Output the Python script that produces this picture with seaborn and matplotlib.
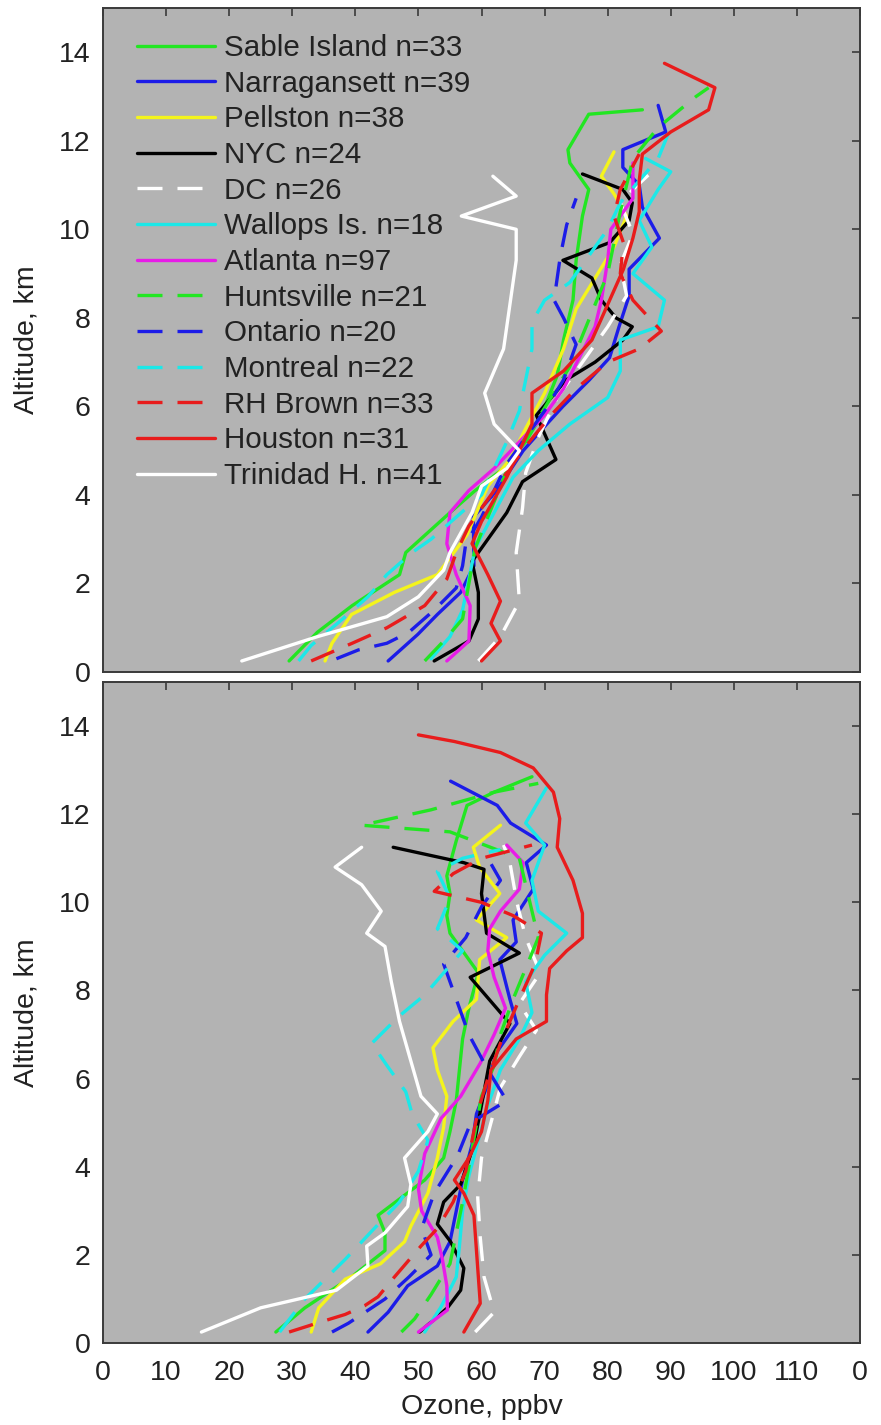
import matplotlib
matplotlib.use("Agg")
import matplotlib.pyplot as plt
import pandas as pd
import seaborn as sns

# ---------------- data (ozone ppbv, altitude km) ----------------
labels = ["Sable Island n=33", "Narragansett n=39", "Pellston n=38", "NYC n=24",
          "DC n=26", "Wallops Is. n=18", "Atlanta n=97", "Huntsville n=21",
          "Ontario n=20", "Montreal n=22", "RH Brown n=33", "Houston n=31",
          "Trinidad H. n=41"]
colors = ["#22e622", "#1c1ce8", "#f4f41c", "#000000", "#ffffff", "#1ce8e8",
          "#e81ce8", "#22e622", "#1c1ce8", "#1ce8e8", "#e81c1c", "#e81c1c", "#ffffff"]
dashed = [False, False, False, False, True, False, False, True, True, True, True, False, False]

# ---- upper panel ----
sable_top = [(29.5,0.25),(34,0.9),(39.5,1.5),(47,2.2),(48,2.7),(55,3.6),(59,4.1),(63.5,4.6),
             (67,5.2),(69.5,5.8),(72,6.7),(73,7.5),(74.5,8.4),(75,9.3),(76,10.3),(77,10.9),
             (74,11.5),(73.7,11.8),(77,12.6),(85.5,12.7)]
narra_top = [(45.2,0.25),(49.9,0.85),(53,1.3),(56.7,1.8),(58.8,2.4),(58.7,3.5),(62.4,4.1),
             (66.6,5.0),(69.7,5.5),(72.9,6.0),(77.1,6.6),(80.3,7.1),(81.8,7.8),(83.4,8.5),
             (83.4,9.1),(88.2,9.8),(85.5,10.5),(85,11.0),(82.4,11.4),(82.4,11.8),(89.2,12.2),(88,12.8)]
pell_top = [(35.2,0.25),(36.3,0.65),(39.4,1.3),(46.2,1.8),(53,2.2),(55.1,2.6),(57.7,3.1),
            (61,4.2),(64.5,4.8),(67,5.5),(70,6.3),(73,7.3),(75,8.2),(78,8.9),(81,9.6),
            (83,10.3),(81,10.8),(79,11.2),(81,11.75)]
nyc_top = [(52.5,0.25),(58,0.7),(59.5,1.2),(59.5,1.8),(58.5,2.5),(61,3.0),(64,3.6),(66.5,4.3),
           (71.8,4.8),(68.7,5.8),(73.4,6.6),(78,7.0),(82.4,7.5),(83.9,7.8),(81.3,8.0),(79,8.4),
           (77.5,8.9),(72.9,9.3),(80.3,9.7),(83.4,10.2),(83.9,10.6),(82.4,10.9),(76,11.25)]
dc_top = [(59.5,0.25),(63,0.8),(66,1.6),(65.5,2.7),(66.5,3.7),(67,4.5),(69,5.3),(72,6.2),
          (76,7.0),(80,7.8),(83,8.5),(82,9.2),(84,9.9),(82,10.6),(84,10.9),(87,11.3)]
wall_top = [(52,0.3),(55,0.8),(57,1.4),(58,2.1),(59,2.8),(62,3.6),(65,4.4),(69,5.0),(74,5.6),
            (80,6.2),(82,6.8),(82,7.5),(88,7.8),(89,8.4),(84,9.0),(87,9.6),(85,10.2),(88,10.9),
            (90,11.3),(86,11.6)]
atl_top = [(54.5,0.25),(58,0.7),(58.2,1.5),(56,2.2),(54.5,2.9),(55,3.6),(58,4.1),(62,4.6),
           (66,5.2),(70,5.8),(73,6.4),(75.5,7.1),(78,7.8),(79,8.4),(80,9.3),(80.5,10.0),
           (84,10.7),(84,11.5)]
hunt_top = [(51,0.25),(54,0.7),(57,1.2),(58,2.0),(59,2.8),(61,3.5),(63,4.2),(65,4.9),(68,5.5),
            (71,6.2),(74,6.9),(76,7.6),(78,8.3),(80,9.0),(81,9.7),(82,10.4),(83,11.0),(84,11.6),
            (88,12.3),(94,13.0),(96,13.2)]
ont_top = [(37,0.3),(40.5,0.5),(45,0.65),(48.5,0.9),(52.5,1.4),(56,1.9),(57,2.4),(57.5,2.9),
           (60,3.5),(62,4.1),(64,4.7),(67,5.3),(70,5.9),(73,6.6),(75,7.4),(73,8.0),(71.5,8.4),
           (72,8.9),(72.5,9.4),(73.5,10.1),(75,10.7)]
mont_top = [(31,0.25),(33,0.6),(38,1.2),(42,1.7),(45,2.2),(49,2.7),(52,3.0),(56,3.5),(60,4.0),
            (62,4.6),(64,5.2),(66,5.9),(67,6.6),(68,7.3),(68,7.9),(70,8.4),(74,8.8),(77,9.4),
            (80,10.0),(82,10.6),(85,11.1),(88,11.6),(90,12.3)]
rhb_top = [(33,0.25),(39.5,0.65),(45,1.0),(51,1.5),(54.5,2.1),(56,2.7),(58,3.3),(61,3.9),
           (64,4.5),(67,5.1),(71,5.8),(75,6.4),(80,7.0),(85,7.3),(88.5,7.7),(84,8.4),(82,9.0),
           (82.5,9.7),(81,10.3),(82,10.9),(85,11.7)]
hou_top = [(60,0.25),(63,0.7),(61.5,1.1),(63,1.6),(61,2.2),(58.5,2.9),(60,3.4),(62,3.9),(64,4.4),
           (66,5.0),(68,5.6),(68,6.3),(73,6.8),(77.5,7.5),(80,8.3),(82.5,9.1),(84,9.8),(85,10.4),
           (85,11.1),(85.5,11.7),(90,12.2),(96,12.7),(97,13.2),(89,13.75)]
trin_top = [(22,0.25),(34,0.8),(45,1.25),(50,1.7),(54,2.3),(55,2.7),(58.5,3.6),(60,4.2),(64,4.6),
            (66,5.0),(62,5.6),(60.5,6.3),(63.5,7.3),(64.5,8.3),(65.5,9.3),(65.5,10.0),(56.8,10.3),
            (65.5,10.75),(61.8,11.2)]

# ---- lower panel ----
sable_bot = [(27.4,0.25),(32,0.8),(39.4,1.5),(44.7,2.1),(44.7,2.5),(43.6,2.9),(47.3,3.3),(51,3.7),
             (54,4.2),(55,4.8),(56,5.5),(56.5,6.2),(57,6.9),(58,7.6),(59.5,8.4),(57,8.9),(55,9.3),
             (54.5,9.7),(55,10.2),(54.5,10.6),(56,11.4),(57.7,12.2),(62,12.5),(68,12.85)]
narra_bot = [(42,0.25),(45.2,0.7),(48.3,1.3),(53,1.75),(55,2.3),(56,3.0),(57,3.7),(58.5,4.5),
             (59.2,5.2),(60.8,5.8),(62.4,6.6),(65.6,7.25),(64.5,7.8),(62.9,8.7),(65.5,9.1),(65,9.6),
             (68.2,10.3),(67.1,10.9),(70.3,11.3),(64.6,11.8),(62.5,12.2),(55.1,12.75)]
pell_bot = [(33,0.25),(34.2,0.8),(38.4,1.45),(44,1.8),(47.8,2.3),(48.8,2.65),(51.5,3.4),(53,4.2),
            (54,4.9),(54.5,5.6),(53,6.2),(52.3,6.7),(55.5,7.3),(59.2,7.8),(59.7,8.7),(64,9.2),
            (59.2,9.6),(62.9,10.2),(59.7,10.8),(58.7,11.25),(63,11.75)]
nyc_bot = [(50.2,0.25),(54.6,0.8),(56.7,1.2),(57.2,1.7),(55.1,2.3),(53,2.7),(54,3.2),(56.7,3.6),
           (58.8,4.5),(60,5.4),(61.3,6.4),(64.5,7.25),(58.2,8.3),(66,8.85),(60.8,9.3),(60,10.2),
           (60.4,10.75),(57.2,10.9),(46,11.25)]
dc_bot = [(59,0.25),(62,0.7),(60.4,1.5),(59.8,2.4),(59.4,3.3),(60,4.2),(61.5,5.0),(63,5.8),
          (66,6.5),(68.7,7.1),(66,7.7),(69.3,8.4),(67,9.2),(65.6,10.0),(64.5,10.9),(63.5,11.3)]
wall_bot = [(51,0.25),(53.5,0.8),(56,1.5),(56.5,2.2),(57,3.0),(58,3.8),(59.5,4.6),(61,5.4),
            (63,6.2),(66,6.9),(68,7.5),(67,8.2),(70,8.8),(73.5,9.3),(69,9.8),(68,10.5),(70,11.3),
            (67,11.8),(70.3,12.6)]
atl_bot = [(50,0.25),(54.6,0.75),(54.5,1.3),(53.8,1.9),(53,2.4),(50.5,3.0),(50,3.5),(51,4.3),
           (53.6,5.1),(56.7,5.6),(59.8,6.35),(62,7.0),(63.8,7.6),(62,8.3),(61,8.9),(61.3,9.4),
           (63,9.8),(66,10.3),(66.6,10.9),(64,11.3)]
hunt_bot = [(47.3,0.25),(49.4,0.55),(52,1.1),(55,1.8),(56,2.5),(57,3.2),(58,4.0),(59,4.8),
            (60,5.6),(62,6.3),(63,7.0),(65,7.8),(67,8.5),(69,9.2),(68,9.8),(67,10.4),(66,11.0),
            (55,11.6),(41,11.75),(52,12.1),(62,12.5),(69,12.7)]
ont_bot = [(36.3,0.25),(38.9,0.45),(42.6,0.8),(44.7,1.0),(48.5,1.5),(52,2.0),(50.5,2.6),(52.5,3.4),
           (56.2,4.25),(58.3,5.0),(64,5.5),(61,6.2),(58,7.0),(56,7.8),(54,8.6),(57.5,9.2),
           (60,9.9),(63,10.5),(61,11.0)]
mont_bot = [(28,0.25),(32,1.0),(38.4,1.9),(43,2.6),(47,3.2),(50,3.9),(51.5,4.6),(49,5.2),(48,5.7),
            (45,6.3),(42.6,6.8),(46.8,7.4),(51,7.9),(54,8.4),(57,8.9),(53,9.4),(55,10.1),(53,10.7),
            (57,11.0),(63,11.2)]
rhb_bot = [(29.5,0.25),(35,0.5),(38.4,0.65),(41.5,0.85),(43.6,1.05),(46.2,1.5),(50.4,2.2),(53,2.6),
           (55.5,3.2),(57.5,3.9),(58.5,4.6),(59.5,5.3),(61,6.0),(63,6.8),(66,7.8),(68.5,8.6),
           (69.5,9.3),(65,9.7),(60,10.0),(52.5,10.25),(55.5,10.65),(60,11.0),(68,11.3)]
hou_bot = [(57.2,0.25),(59.8,0.9),(59.3,1.9),(58.8,2.9),(57.2,3.4),(55.7,3.7),(58,4.2),(60,4.8),
           (61,5.5),(61.5,6.2),(65.5,6.9),(70.3,7.3),(70.3,7.9),(70.8,8.5),(73.5,8.9),(76,9.2),
           (76,9.75),(74.5,10.5),(72,11.25),(72.4,11.9),(71.4,12.5),(68.2,13.05),(63,13.4),
           (55.7,13.65),(50,13.8)]
trin_bot = [(15.6,0.25),(25,0.8),(37,1.2),(42,1.75),(41.8,2.2),(44.7,2.5),(48.3,3.1),(48.8,3.6),
            (47.8,4.2),(51.5,4.8),(53,5.2),(50.4,5.6),(48.6,6.5),(47,7.3),(45.7,8.2),(44.7,9.0),
            (41.8,9.3),(44.1,9.8),(41,10.4),(36.8,10.8),(41,11.25)]

top_profiles = [sable_top, narra_top, pell_top, nyc_top, dc_top, wall_top, atl_top,
                hunt_top, ont_top, mont_top, rhb_top, hou_top, trin_top]
bot_profiles = [sable_bot, narra_bot, pell_bot, nyc_bot, dc_bot, wall_bot, atl_bot,
                hunt_bot, ont_bot, mont_bot, rhb_bot, hou_bot, trin_bot]

xticks = list(range(0, 121, 10))
xticklabels = [str(v) for v in xticks[:-1]] + ["0"]
yticks = list(range(0, 15, 2))

# ---------------- figure ----------------
sns.set_theme(style="white")
plt.rcParams["font.family"] = ["Liberation Sans", "DejaVu Sans"]
FS = 20.5
LFS = 21.3
BG = "#b3b3b3"
EDGE = "#3a3a3a"
TXT = "#222222"

fig = plt.figure(figsize=(8.81, 14.25), dpi=100)
ax_top = fig.add_axes([0.1169, 0.5284, 0.8593, 0.4660])
ax_bot = fig.add_axes([0.1169, 0.0575, 0.8593, 0.4639])

def draw(ax, profiles, with_legend):
    for lab, col, dsh, prof in zip(labels, colors, dashed, profiles):
        df = pd.DataFrame(prof, columns=["ozone", "alt"])
        sns.lineplot(data=df, x="ozone", y="alt", sort=False, estimator=None, ax=ax,
                     color=col, lw=2.4,
                     linestyle=(0, (7.5, 4.5)) if dsh else "-",
                     label=lab if with_legend else None, legend=False)
    ax.set_facecolor(BG)
    ax.set_xlim(0, 120)
    ax.set_ylim(0, 15)
    ax.set_xticks(xticks)
    ax.set_yticks(yticks)
    ax.set_yticklabels([str(v) for v in yticks], fontsize=FS, color=TXT)
    ax.tick_params(direction="in", top=True, right=True, length=6, width=1.2,
                   color=EDGE)
    ax.tick_params(axis="y", pad=9)
    ax.tick_params(axis="x", pad=12)
    for s in ax.spines.values():
        s.set_color(EDGE)
        s.set_linewidth(1.4)
    ax.set_ylabel("Altitude, km", fontsize=FS, color=TXT, labelpad=14)
    ax.grid(False)

draw(ax_top, top_profiles, True)
draw(ax_bot, bot_profiles, False)

ax_top.set_xticklabels([])
ax_top.set_xlabel("")
ax_bot.set_xticklabels(xticklabels, fontsize=FS, color=TXT)
ax_bot.set_xlabel("Ozone, ppbv", fontsize=FS, color=TXT, labelpad=6)

handles, lbls = ax_top.get_legend_handles_labels()
ax_top.legend(handles, lbls, loc="upper left", bbox_to_anchor=(0.045, 0.961),
              frameon=False, fontsize=LFS, handlelength=2.65, handletextpad=0.28,
              labelspacing=0.26, borderaxespad=0.0, borderpad=0.0)
for t in ax_top.get_legend().get_texts():
    t.set_color(TXT)

fig.savefig("out.png", dpi=100, facecolor="white")
